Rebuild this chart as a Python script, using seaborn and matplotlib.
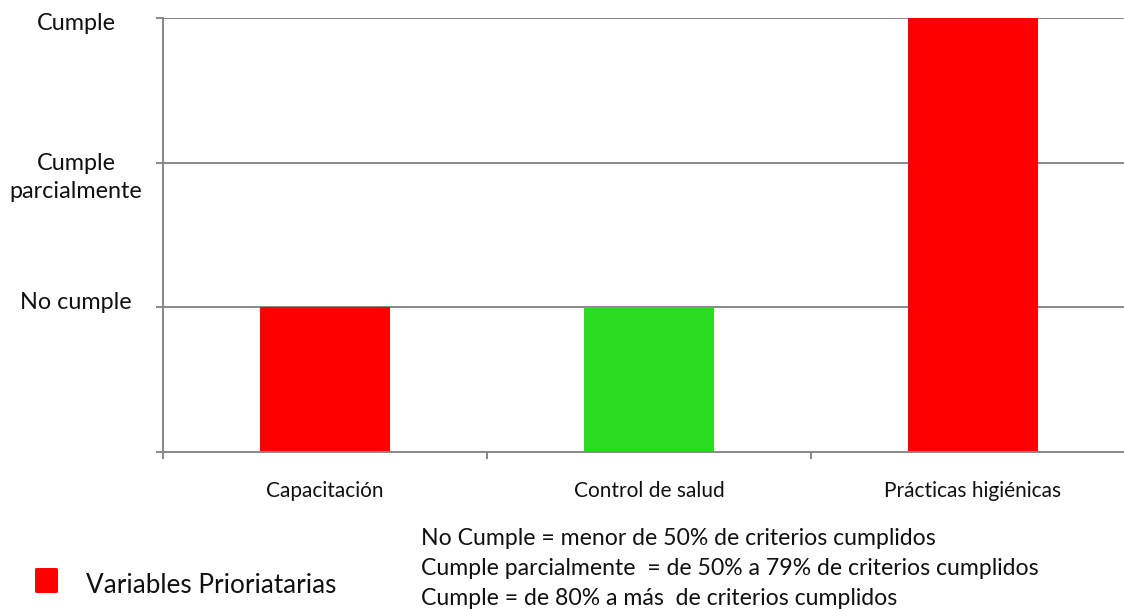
import matplotlib
matplotlib.use("Agg")
import matplotlib.pyplot as plt
import matplotlib.transforms as mtransforms
import matplotlib.patches as mpatches
import seaborn as sns
import pandas as pd

# ---- data ----
categories = ["Capacitación", "Control de salud", "Prácticas higiénicas"]
values = [1, 1, 3]
bar_colors = ["#ff0000", "#2bdd22", "#ff0000"]
level_values = [1, 2, 3]
level_labels = ["No cumple", "Cumple\nparcialmente", "Cumple"]
legend_label = "Variables Prioriatarias"
note_lines = [
    "No Cumple = menor de 50% de criterios cumplidos",
    "Cumple parcialmente  = de 50% a 79% de criterios cumplidos",
    "Cumple = de 80% a más  de criterios cumplidos",
]

sns.set_theme(style="white")
plt.rcParams["font.family"] = ["Lato", "DejaVu Sans"]

W, H, DPI = 1124, 609, 100
fig = plt.figure(figsize=(W / DPI, H / DPI), dpi=DPI)
# axes: left spine x=163, bottom y=452, top y=18, category width 324 px
ax = fig.add_axes([163 / W, (H - 452) / H, (324 * 3) / W, (452 - 18) / H])

df = pd.DataFrame({"cat": categories, "val": values})
sns.barplot(data=df, x="cat", y="val", hue="cat", palette=bar_colors,
            width=0.4, dodge=False, legend=False, ax=ax, saturation=1,
            linewidth=0, edgecolor="none", zorder=3)

grid_color = "#888888"
ax.set_xlim(-0.5, len(categories) - 0.5)
ax.set_ylim(0, 3)
for v in level_values:
    ax.axhline(v, color=grid_color, lw=1.4, zorder=1)

for side in ["top", "right"]:
    ax.spines[side].set_visible(False)
for side in ["left", "bottom"]:
    ax.spines[side].set_color(grid_color)
    ax.spines[side].set_linewidth(1.4)
    ax.spines[side].set_zorder(4)

ax.set_xlabel("")
ax.set_ylabel("")

# x: labels at centers without ticks, tick marks at category boundaries
ax.set_xticks(range(len(categories)))
ax.set_xticklabels(categories, fontsize=15, color="#111111")
ax.set_xticks([i - 0.5 for i in range(len(categories) + 1)], minor=True)
ax.tick_params(axis="x", which="major", length=0, pad=21)
ax.tick_params(axis="x", which="minor", length=5, width=1.4,
               color=grid_color, direction="out", bottom=True)

# y: tick marks at 0..3, labels drawn centered left of axis
ax.set_yticks([0] + level_values)
ax.set_yticklabels([])
ax.tick_params(axis="y", which="major", length=5, width=1.4,
               color=grid_color, direction="out", left=True)

yoff_px = [-5, 15, 6]
label_x = (76 - 163) / (324 * 3)
trans_base = ax.get_yaxis_transform()
for v, lab, dy in zip(level_values, level_labels, yoff_px):
    tr = trans_base + mtransforms.ScaledTranslation(0, -dy / DPI, fig.dpi_scale_trans)
    ax.text(label_x, v, lab, transform=tr,
            ha="center", va="center", fontsize=16.8, color="#111111",
            linespacing=1.42)

# legend-like marker and text
fig.patches.append(mpatches.FancyBboxPatch(
    (35 / W, (H - 593) / H), 23 / W, 25 / H,
    boxstyle="round,pad=0,rounding_size=0.002",
    transform=fig.transFigure, facecolor="#ff0000", edgecolor="none"))
fig.text(86 / W, (H - 593) / H, legend_label, fontsize=18.8,
         color="#111111", ha="left", va="baseline")

# criteria notes
for i, line in enumerate(note_lines):
    fig.text(421 / W, (H - (545 + 30 * i)) / H, line, fontsize=16.6,
             color="#111111", ha="left", va="baseline")

fig.savefig("out.png", dpi=DPI, facecolor="white")
